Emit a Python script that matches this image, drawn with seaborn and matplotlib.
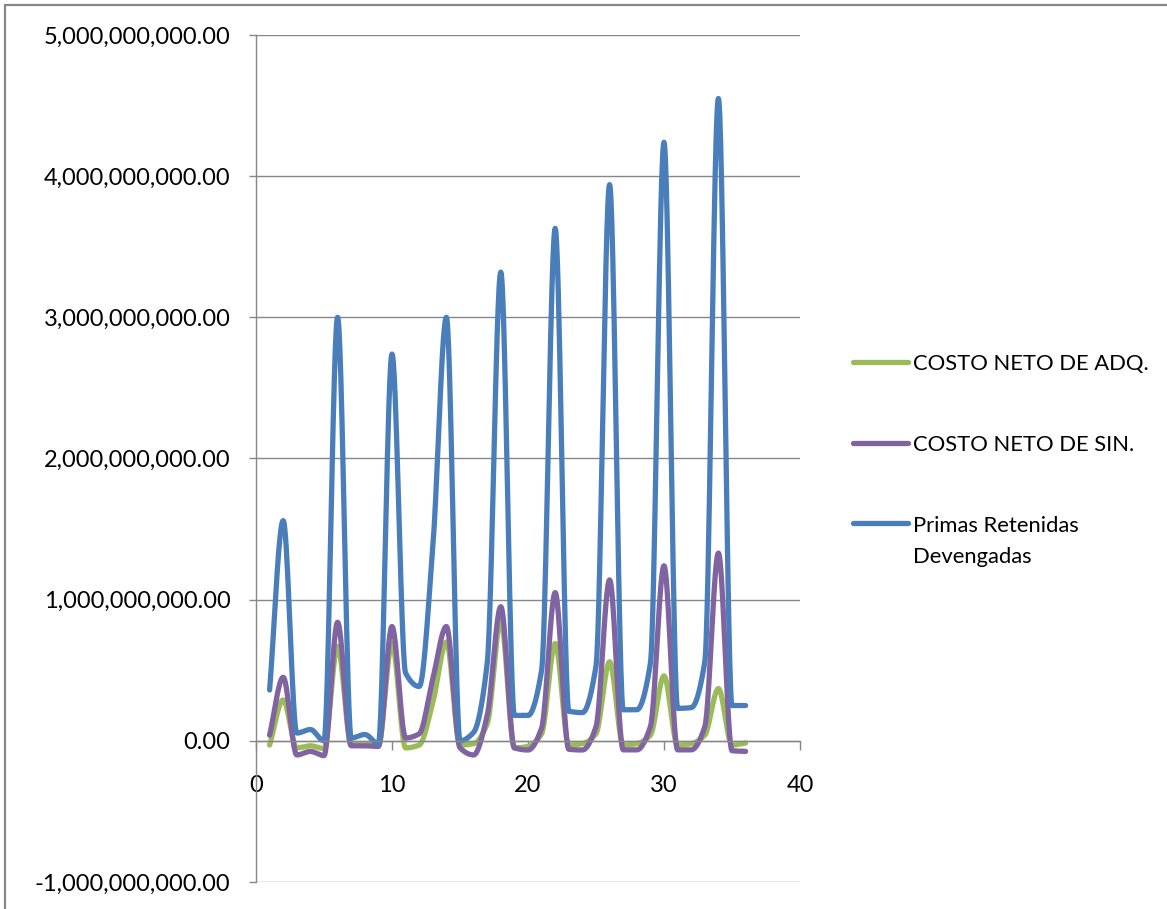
import numpy as np
import pandas as pd
import matplotlib
matplotlib.use("Agg")
import matplotlib.pyplot as plt
import seaborn as sns
from matplotlib.ticker import FuncFormatter, FixedLocator
from matplotlib.patches import Rectangle
from matplotlib.lines import Line2D

# ---------------- data ----------------
periods = list(range(1, 37))
costo_adq = [-0.03, 0.29, -0.05, -0.035, -0.055, 0.67, -0.025, -0.025, -0.03, 0.69,
             -0.05, -0.03, 0.27, 0.70, -0.03, -0.02, 0.12, 0.85, -0.05, -0.04,
             0.05, 0.69, -0.03, -0.02, 0.05, 0.56, -0.03, -0.02, 0.04, 0.46,
             -0.03, -0.02, 0.04, 0.37, -0.03, -0.015]
costo_sin = [0.04, 0.45, -0.10, -0.075, -0.105, 0.84, -0.035, -0.035, -0.04, 0.81,
             0.02, 0.05, 0.44, 0.81, -0.05, -0.10, 0.18, 0.95, -0.05, -0.065,
             0.09, 1.05, -0.06, -0.065, 0.10, 1.14, -0.064, -0.064, 0.10, 1.24,
             -0.064, -0.064, 0.10, 1.33, -0.07, -0.075]
primas = [0.36, 1.56, 0.055, 0.08, 0.0, 3.00, 0.02, 0.045, -0.02, 2.74,
          0.48, 0.385, 1.37, 3.00, 0.0, 0.06, 0.55, 3.32, 0.18, 0.18,
          0.50, 3.63, 0.21, 0.20, 0.53, 3.94, 0.22, 0.22, 0.55, 4.24,
          0.23, 0.235, 0.56, 4.55, 0.25, 0.25]
scale = 1e9
series_names = ["COSTO NETO DE ADQ.", "COSTO NETO DE SIN.", "Primas Retenidas\nDevengadas"]
series_values = [costo_adq, costo_sin, primas]
series_colors = ["#9BBB59", "#8064A2", "#4A7EBB"]
y_ticks = [-1e9, 0, 1e9, 2e9, 3e9, 4e9, 5e9]
x_ticks = [0, 10, 20, 30, 40]


def smooth(x, y, n=30):
    """Smoothed line through the points (shape-preserving cubic Hermite)."""
    x = np.asarray(x, float)
    y = np.asarray(y, float)
    h = np.diff(x)
    delta = np.diff(y) / h
    m = np.zeros_like(y)
    for k in range(1, len(y) - 1):
        if delta[k - 1] * delta[k] <= 0:
            m[k] = 0.0
        else:
            w1 = 2 * h[k] + h[k - 1]
            w2 = h[k] + 2 * h[k - 1]
            m[k] = (w1 + w2) / (w1 / delta[k - 1] + w2 / delta[k])
    m[0] = delta[0]
    m[-1] = delta[-1]
    xs, ys = [], []
    t = np.linspace(0, 1, n, endpoint=False)
    for k in range(len(x) - 1):
        h00 = 2 * t ** 3 - 3 * t ** 2 + 1
        h10 = t ** 3 - 2 * t ** 2 + t
        h01 = -2 * t ** 3 + 3 * t ** 2
        h11 = t ** 3 - t ** 2
        xs.append(x[k] + t * h[k])
        ys.append(h00 * y[k] + h10 * h[k] * m[k] + h01 * y[k + 1] + h11 * h[k] * m[k + 1])
    xs.append(x[-1:])
    ys.append(y[-1:])
    return np.concatenate(xs), np.concatenate(ys)


frames = []
for name, vals in zip(series_names, series_values):
    sx, sy = smooth(periods, np.array(vals) * scale)
    frames.append(pd.DataFrame({"x": sx, "y": sy, "serie": name}))
df = pd.concat(frames, ignore_index=True)

# ---------------- style ----------------
sns.set_style("white")
plt.rcParams["font.family"] = ["Lato", "DejaVu Sans"]

W, H = 1167, 909
fig = plt.figure(figsize=(W / 100, H / 100), dpi=100)
ax = fig.add_axes([256 / W, 1 - 882 / H, (800 - 256) / W, (882 - 35) / H])

LW = 3.8
sns.lineplot(data=df, x="x", y="y", hue="serie", hue_order=series_names,
             palette=series_colors, sort=False, estimator=None, units="serie",
             linewidth=LW, legend=False, ax=ax)
for ln in ax.lines:
    ln.set_solid_capstyle("round")
    ln.set_solid_joinstyle("round")

grid_col = "#878787"
ax.set_xlim(0, 40)
ax.set_ylim(-1e9, 5e9)
ax.yaxis.set_major_locator(FixedLocator(y_ticks))
ax.xaxis.set_major_locator(FixedLocator(x_ticks))
ax.yaxis.set_major_formatter(FuncFormatter(lambda v, p: f"{v:,.2f}"))
ax.xaxis.set_major_formatter(FuncFormatter(lambda v, p: f"{int(v)}"))
ax.set_xlabel("")
ax.set_ylabel("")

ax.yaxis.grid(True, color=grid_col, linewidth=1.0)
ax.xaxis.grid(False)
ax.set_axisbelow(True)

for s in ["top", "right"]:
    ax.spines[s].set_visible(False)
ax.spines["left"].set_color(grid_col)
ax.spines["left"].set_linewidth(1.0)
ax.spines["bottom"].set_position(("data", 0))
ax.spines["bottom"].set_color(grid_col)
ax.spines["bottom"].set_linewidth(1.0)

ax.tick_params(axis="y", direction="out", length=5, width=1.0, color=grid_col,
               pad=13.5, labelsize=17, labelcolor="black", left=True)
ax.tick_params(axis="x", direction="out", length=6.5, width=1.0, color=grid_col,
               pad=18, labelsize=17, labelcolor="black", bottom=True)

# legend (drawn entry by entry, handle aligned with first text line)
leg_handle_y = [362, 443, 523]
leg_baseline = [370, 451, 532]
for name, col, hy, by in zip(series_names, series_colors, leg_handle_y, leg_baseline):
    fig.add_artist(Line2D([853 / W, 908 / W], [1 - hy / H, 1 - hy / H],
                          transform=fig.transFigure, color=col, linewidth=LW,
                          solid_capstyle="round"))
    lines = name.split("\n")
    for i, part in enumerate(lines):
        fig.text(913 / W, 1 - (by + i * 31) / H, part, fontsize=15.8,
                 ha="left", va="baseline", color="black")

# chart-area border (left and top visible)
fig.patches.append(Rectangle((5 / W, -0.05), 1.2, 1 - 5 / H + 0.05,
                             transform=fig.transFigure, fill=False,
                             edgecolor=grid_col, linewidth=1.6))

fig.savefig("out.png", dpi=100)
